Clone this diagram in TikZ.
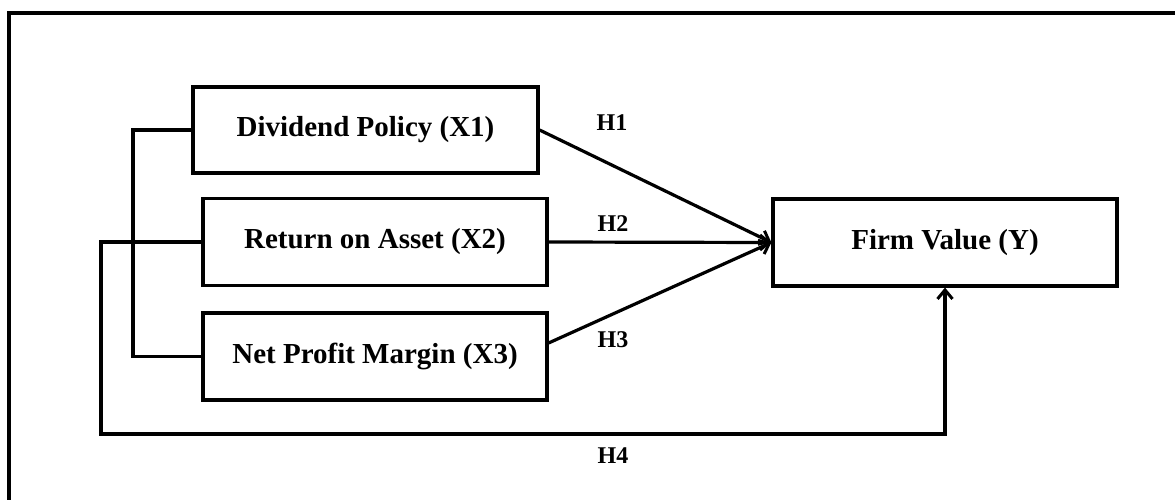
\documentclass[tikz,border=0pt]{standalone}
\usepackage{fontspec}
\setmainfont{Liberation Serif}
\usetikzlibrary{arrows.meta}
\begin{document}
\begin{tikzpicture}[x=1pt,y=-1pt,
  box/.style={draw,line width=3.2pt,rectangle,minimum width=344pt,minimum height=87pt,
    inner sep=0pt,font=\fontsize{29}{34}\selectfont\bfseries},
  hlab/.style={inner sep=0pt,font=\fontsize{24}{28}\selectfont\bfseries},
  conn/.style={line width=3.2pt},
  arr/.style={conn,-{Straight Barb[length=9pt,width=15pt,line width=3pt]}}]
\clip (0,0) rectangle (1175,500);
\draw[line width=3.6pt] (9,13) rectangle (1190,515);
\node[box,minimum width=345pt,minimum height=86pt] (d) at (365.5,130) {Dividend Policy (X1)};
\node[box] (r) at (375,242) {Return on Asset (X2)};
\node[box] (n) at (375,356.5) {Net Profit Margin (X3)};
\node[box] (f) at (945,242.5) {Firm Value (Y)};
\node[hlab] (h1) at (612,123) {H1};
\node[hlab] (h2) at (613,224) {H2};
\node[hlab] (h3) at (613,339.5) {H3};
\node[hlab] (h4) at (613,456) {H4};
\coordinate (b1) at (133,130);
\coordinate (b2) at (133,356.5);
\coordinate (c1) at (101,242);
\coordinate (c2) at (101,434);
\coordinate (c3) at (945,434);
\draw[conn] (d.west) -- (b1) -- (b2) -- (n.west);
\draw[arr] (r.west) -- (c1) -- (c2) -- (c3) -- (f.south);
\draw[arr] (d.east) -- (f.west);
\draw[arr] (r.east) -- (f.west);
\draw[arr] ([yshift=13.5pt]n.east) -- (f.west);
\end{tikzpicture}
\end{document}
